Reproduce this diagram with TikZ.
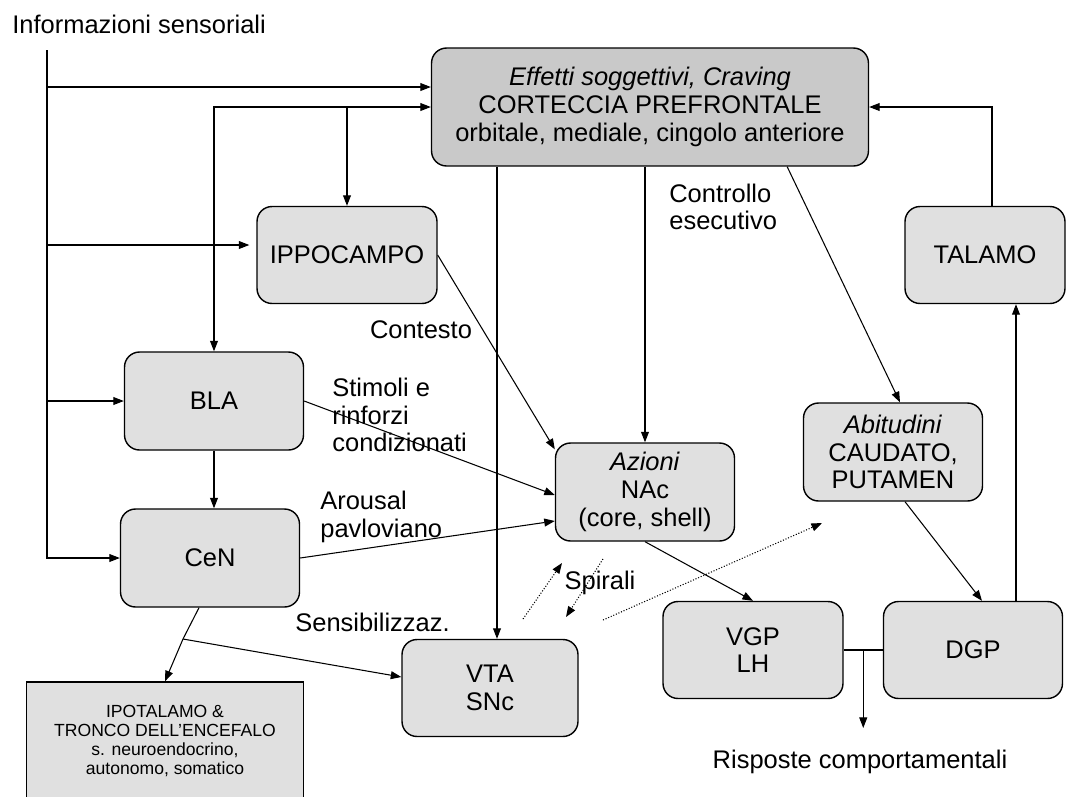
\documentclass[tikz,border=0pt]{standalone}
\usepackage{fontspec}
\setmainfont{Liberation Sans}
\usetikzlibrary{positioning,arrows.meta,calc}

\begin{document}
\begin{tikzpicture}[x=0.02cm,y=-0.02cm,
		>={Triangle[length=6pt,width=4.5pt]},
		txt/.style={font=\fontsize{14.5}{15.8}\selectfont, align=center, inner sep=0pt},
		box/.style={txt, draw, line width=0.8pt, rounded corners=0.3cm, fill=gray!24,
			minimum width=3.58cm, minimum height=1.96cm},
		conn/.style={line width=0.6pt},
		spir/.style={->, line width=0.6pt, densely dotted}]
		
		\useasboundingbox (0,0) rectangle (1066,796);
		
		% boxes
		\node[box, fill=gray!42, minimum width=8.74cm, minimum height=2.36cm] (pfc) at (650,107)
			{\textit{Effetti soggettivi, Craving}\\CORTECCIA PREFRONTALE\\orbitale, mediale, cingolo anteriore};
		\node[box, minimum width=3.6cm, minimum height=1.94cm] (ippo) at (347,255) {IPPOCAMPO};
		\node[box] (bla) at (214,401) {BLA};
		\node[box] (cen) at (210,558) {CeN};
		\node[txt, draw, line width=0.8pt, fill=gray!24, font=\fontsize{10}{10.8}\selectfont,
			minimum width=5.54cm, minimum height=2.36cm] (ipot) at (165,741)
			{IPOTALAMO \&\\TRONCO DELL'ENCEFALO\\s. neuroendocrino,\\autonomo, somatico};
		\node[box, minimum width=3.52cm, minimum height=1.94cm] (vta) at (490,688) {VTA\\SNc};
		\node[box] (nac) at (645,492) {\textit{Azioni}\\NAc\\(core, shell)};
		\node[box] (abit) at (893,452) {\textit{Abitudini}\\CAUDATO,\\PUTAMEN};
		\node[box, minimum width=3.6cm, minimum height=1.94cm] (vgp) at (753,650) {VGP\\LH};
		\node[box, minimum height=1.94cm] (dgp) at (973,650) {DGP};
		\node[box, minimum width=3.2cm, minimum height=1.94cm] (tal) at (985,255) {TALAMO};
		
		% labels
		\node[txt, anchor=west] (sens) at (12,24) {Informazioni sensoriali};
		\node[txt] (cont) at (421,330) {Contesto};
		\node[txt, anchor=west, align=left] (stim) at (332,415) {Stimoli e\\rinforzi\\condizionati};
		\node[txt, anchor=west, align=left] (arou) at (320,517) {Arousal\\pavloviano};
		\node[txt, anchor=west] (sensib) at (295,622) {Sensibilizzaz.};
		\node[txt, anchor=west, align=left] (ctrl) at (669,207) {Controllo\\esecutivo};
		\node[txt] (spi) at (600,583) {Spirali};
		\node[txt] (risp) at (860,762) {Risposte comportamentali};
		
		% sensory trunk
		\coordinate (infotop) at (47,50);
		\coordinate (pfcin) at ([yshift=0.4cm]pfc.west);
		\coordinate (ippoin) at ([yshift=0.2cm,xshift=-0.14cm]ippo.west);
		\draw[conn, ->] (infotop) |- (cen.west);
		\draw[conn, ->] (infotop |- pfcin) -- (pfcin);
		\draw[conn, ->] (infotop |- ippoin) -- (ippoin);
		\draw[conn, ->] (infotop |- bla.west) -- (bla.west);
		
		\draw[conn, <->] (bla.north) |- (pfc.west);
		\draw[conn, ->] (ippo.north |- pfc.west) -- (ippo.north);
		\draw[conn, ->] (bla.south) -- (bla.south |- cen.north);
		
		% from the prefrontal cortex
		\coordinate (vtain) at ([xshift=0.14cm]vta.north);
		\draw[conn, ->] (vtain |- pfc.south) -- (vtain);
		\draw[conn, ->] (nac.north |- pfc.south) -- (nac.north);
		\draw[conn, ->] ([xshift=-1.64cm]pfc.south east) -- ([xshift=0.14cm]abit.north);
		\draw[conn, ->] ([xshift=0.14cm]tal.north) |- (pfc.east);
		\coordinate (dgpout) at ([xshift=0.86cm]dgp.north);
		\draw[conn, ->] (dgpout) -- (dgpout |- tal.south);
		
		% into the accumbens
		\draw[conn, ->] (ippo.east) -- ([yshift=-0.14cm]nac.north west);
		\draw[conn, ->] (bla.east) -- ([yshift=-0.06cm]nac.west);
		\draw[conn, ->] (cen.east) -- ([yshift=-0.58cm]nac.west);
		
		% amygdala outputs
		\coordinate (jc) at (183,639);
		\draw[conn] ([xshift=-0.22cm]cen.south) -- (jc);
		\draw[conn, ->] (jc) -- (ipot.north);
		\draw[conn, ->] (jc) -- ([yshift=0.22cm]vta.west);
		
		% striatum to pallidum
		\draw[conn, ->] (nac.south) -- (vgp.north);
		\draw[conn, ->] ([xshift=0.24cm]abit.south) -- ([xshift=0.18cm]dgp.north);
		\draw[conn] (vgp.east) -- (dgp.west);
		\coordinate (vd) at ($(vgp.east)!0.5!(dgp.west)$);
		\coordinate (respin) at (863,728);
		\draw[conn, ->] (vd) -- (vd |- respin);
		
		% spirals
		\coordinate (s1a) at (523,619);
		\coordinate (s1b) at (562,563);
		\coordinate (s2a) at (603,559);
		\coordinate (s2b) at (566,617);
		\coordinate (s3a) at (603,620);
		\coordinate (s3b) at (822,523);
		\draw[spir] (s1a) -- (s1b);
		\draw[spir] (s2a) -- (s2b);
		\draw[spir] (s3a) -- (s3b);
		
\end{tikzpicture}
\end{document}
